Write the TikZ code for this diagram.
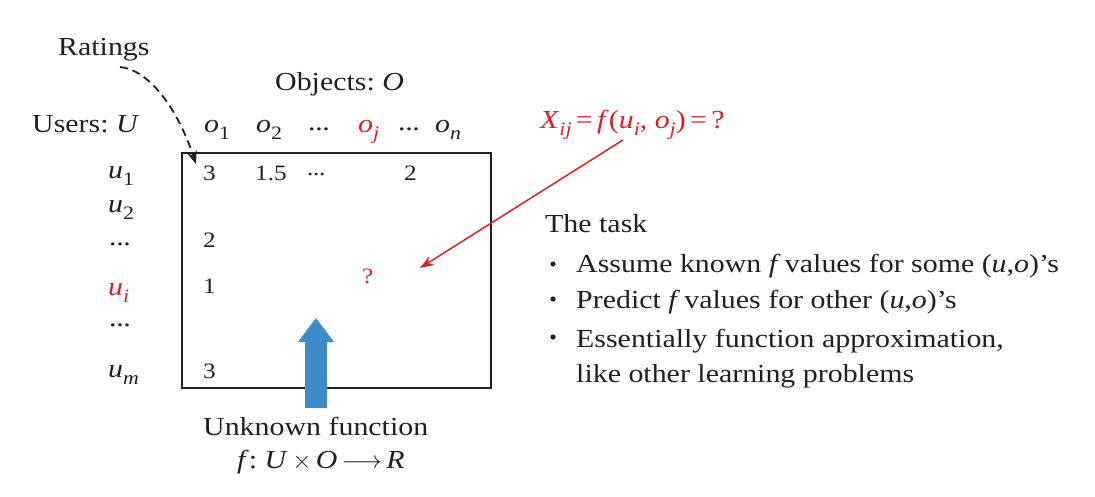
\documentclass[tikz,border=0pt]{standalone}
\usepackage{fontspec}
\setmainfont{Liberation Serif}[FakeStretch=1.15]
\usetikzlibrary{arrows.meta}
\definecolor{myred}{HTML}{D1232A}
\definecolor{myblue}{HTML}{3D8BC9}
\definecolor{ink}{HTML}{231F20}
\frenchspacing
\newcommand{\iv}[1]{\textit{#1}}
\newcommand{\sbs}[1]{\raisebox{-0.3em}{\fontsize{19}{20}\selectfont\textit{#1}}}
\newcommand{\sbn}[1]{\raisebox{-0.3em}{\fontsize{19}{20}\selectfont #1}}
\newcommand{\eld}{.\kern-0.4pt.\kern-0.4pt.}
\begin{document}
\begin{tikzpicture}[x=1pt,y=-1pt,
  txt/.style={font=\fontsize{26}{31}\selectfont, inner sep=0pt, anchor=base west, text=ink},
  ent/.style={font=\fontsize{22}{26}\selectfont, inner sep=0pt, anchor=base west, text=ink},
  redtxt/.style={text=myred},
  conn/.style={line width=1.5pt}]
\useasboundingbox (0,0) rectangle (1095,496);
\fill[white] (0,0) rectangle (1095,496);

% titles
\node[txt] (ratings) at (58,55) {Ratings};
\node[txt] (objects) at (275,90) {Objects: \iv{O}};
\node[txt] (users) at (32,132) {Users: \iv{U}};
\node[txt] (o1) at (204,132) {\iv{o}\sbn{1}};
\node[txt] (o2) at (256,132) {\iv{o}\sbn{2}};
\node[txt] (od1) at (308,130) {\eld};
\node[txt,redtxt] (oj) at (358,132) {\iv{o}\sbs{j}};
\node[txt] (od2) at (398,130) {\eld};
\node[txt] (on) at (435,132) {\iv{o}\sbs{n}};
\node[txt,redtxt] (xij) at (540,128) {\iv{X}\sbs{ij}\,=\,\iv{f}(\iv{u}\sbs{i}, \iv{o}\sbs{j})\,=\,?};

% matrix box
\node[draw=ink, line width=1.6pt, minimum width=309pt, minimum height=235pt, inner sep=0pt, anchor=north west] (box) at (181,152) {};

% row labels
\node[txt] (u1) at (108,178) {\iv{u}\sbn{1}};
\node[txt] (u2) at (108,212) {\iv{u}\sbn{2}};
\node[txt] (ud1) at (109,245) {\eld};
\node[txt,redtxt] (ui) at (108,295) {\iv{u}\sbs{i}};
\node[txt] (ud2) at (109,326) {\eld};
\node[txt] (um) at (108,377) {\iv{u}\sbs{m}};

% entries
\node[ent] (e11) at (203,180) {3};
\node[ent] (e12) at (255,180) {1.5};
\node[ent] (e1d) at (307,175) {\eld};
\node[ent] (e1n) at (404,180) {2};
\node[ent] (e31) at (203,247) {2};
\node[ent] (ei1) at (203,293) {1};
\node[ent,redtxt] (eij) at (362,283) {?};
\node[ent] (em1) at (203,378) {3};

% blue arrow
\fill[myblue] (305,408) -- (305,342) -- (298,342) -- (316,318) -- (334,342) -- (327,342) -- (327,408) -- cycle;
\node[txt] (unk) at (203,435) {Unknown function};
\node[txt] (fdef) at (237,468) {\iv{f}: \iv{U}\,$\times$\,\iv{O}\,$\longrightarrow$\,\iv{R}};

% task text
\node[txt] (task) at (545,232) {The task};
\node[txt] (b1) at (576,272) {Assume known \iv{f}\,values for some (\iv{u},\iv{o})’s};
\node[txt] (b2) at (576,308) {Predict \iv{f}\,values for other (\iv{u},\iv{o})’s};
\node[txt] (b3) at (576,347) {Essentially function approximation,};
\node[txt] (b4) at (576,382) {like other learning problems};
\foreach \yy in {264,299,337}{\fill[ink] (553,\yy) circle (2.6pt);}

% connectors
\coordinate (rs) at (120,67);
\coordinate (re) at (196,164);
\draw[ink, line width=1.8pt, dashed, dash pattern=on 8pt off 5pt, -{Stealth[length=13pt,width=10pt]}] (rs) .. controls (150,70) and (178,110) .. (re);
\coordinate (xs) at (623,140);
\coordinate (xe) at (420,268);
\draw[conn, myred, -{Stealth[length=14pt,width=10pt]}] (xs) -- (xe);
\end{tikzpicture}
\end{document}
